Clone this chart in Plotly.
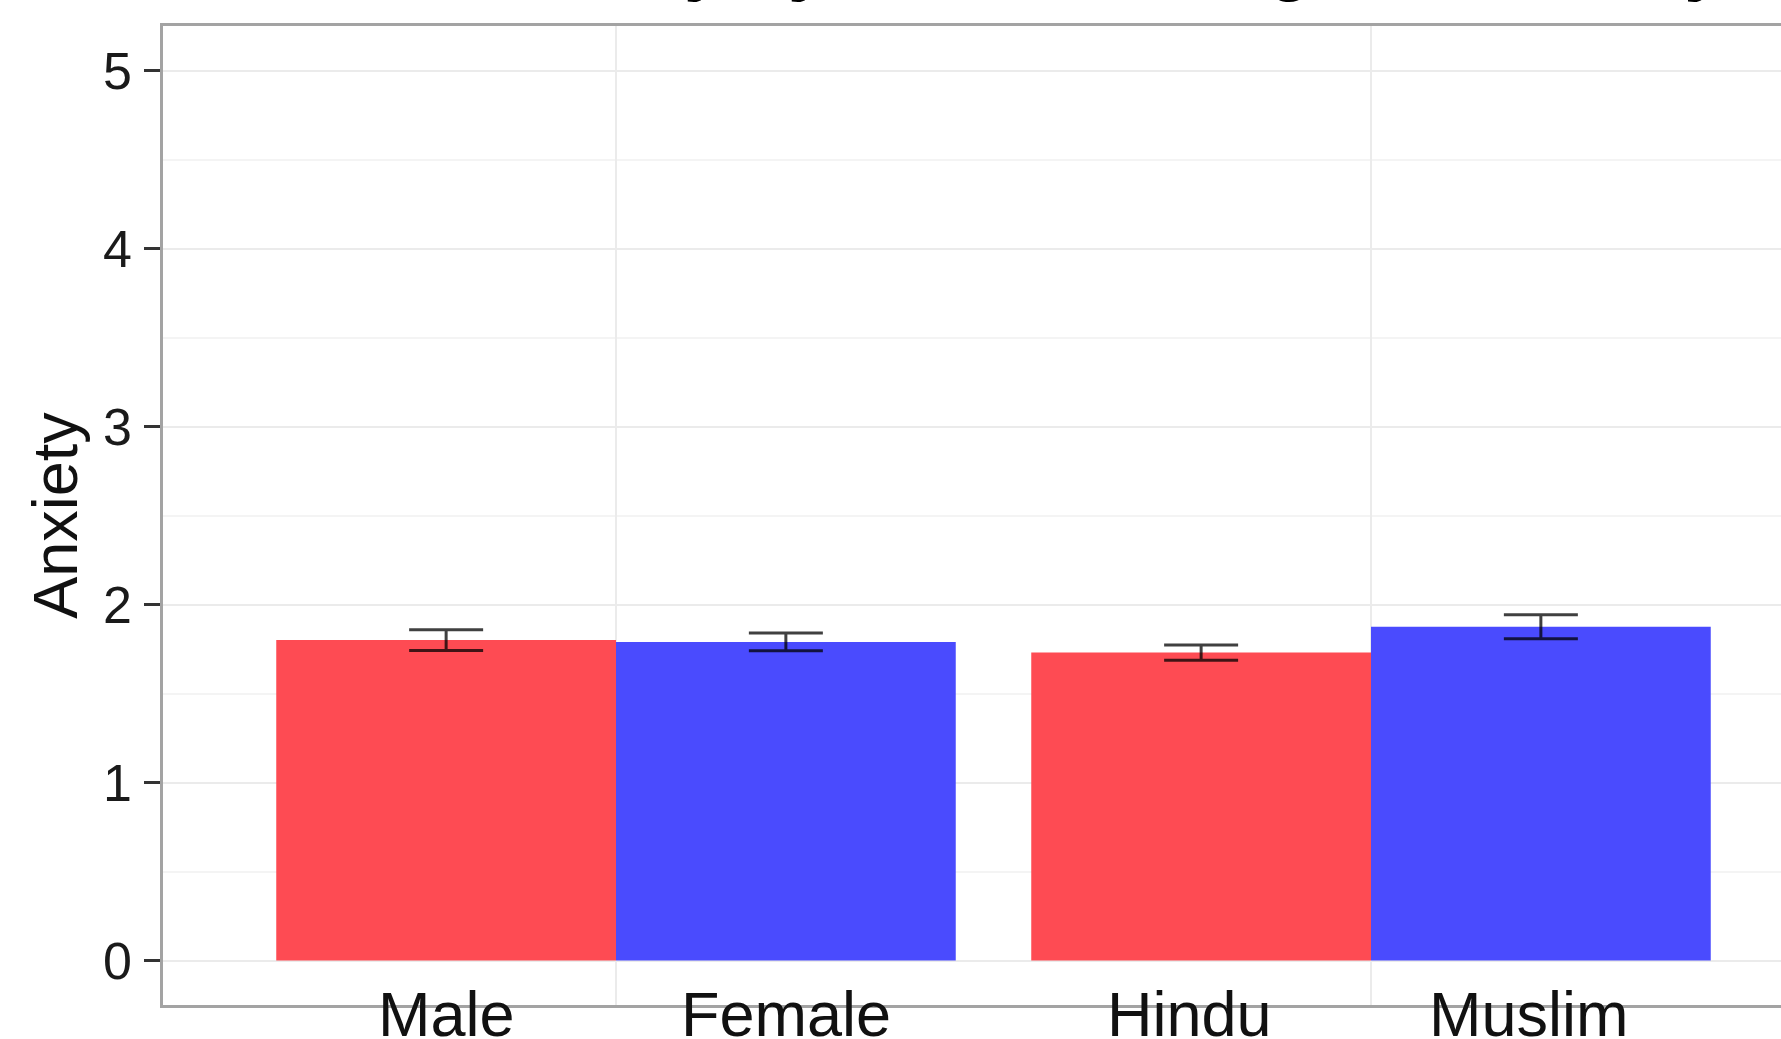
import plotly.graph_objects as go

# Mean anxiety scores with standard errors, two comparison groups
groups = ["Gender", "Religion"]
first_labels = ["Male", "Hindu"]
second_labels = ["Female", "Muslim"]
first_means = [1.80, 1.73]
second_means = [1.79, 1.875]
first_se = [0.058, 0.043]
second_se = [0.050, 0.068]

y_ticks = [0, 1, 2, 3, 4, 5]

RED = "#FE4B53"
BLUE = "#4A4BFE"
ERR = "rgba(0,0,0,0.75)"
FONT = "Liberation Sans, Arial, Helvetica, sans-serif"

W, H = 1781, 1039
M_L, M_R, M_T, M_B = 163, 0, 26, 34
plot_w = W - M_L - M_R
plot_h = H - M_T - M_B

fig = go.Figure()
fig.add_trace(go.Bar(
    x=groups, y=first_means, name="first",
    marker=dict(color=RED, line=dict(width=0)),
    error_y=dict(type="data", array=first_se, visible=True,
                 color=ERR, thickness=3, width=37),
))
fig.add_trace(go.Bar(
    x=groups, y=second_means, name="second",
    marker=dict(color=BLUE, line=dict(width=0)),
    error_y=dict(type="data", array=second_se, visible=True,
                 color=ERR, thickness=3, width=37),
))

# dodged bar centres sit a quarter of the 0.9 group width either side;
# the second group's labels are nudged slightly left
offset = 0.9 / 4
nudge = [0.0, -0.016]
label_y = (H - M_B - 977) / plot_h
annotations = []
for i in range(len(groups)):
    for lab, dx in ((first_labels[i], -offset), (second_labels[i], offset)):
        annotations.append(dict(
            x=i + dx + nudge[i], xref="x", y=label_y, yref="paper",
            text=lab, showarrow=False, xanchor="center", yanchor="top",
            font=dict(family=FONT, size=63, color="#111111"),
        ))

# title sits above the top edge of the page
annotations.append(dict(
    x=(462 - M_L) / plot_w, xref="paper",
    y=(H - M_B - 4.5) / plot_h, yref="paper",
    text="<b>Anxiety by Gender, Religion and City</b>",
    showarrow=False, xanchor="left", yanchor="bottom",
    font=dict(family=FONT, size=72, color="#000000"),
))

x_left = -0.6
x_right = x_left + 2.2 * plot_w / (plot_w + 43)

fig.update_layout(
    width=W, height=H,
    margin=dict(l=M_L, r=M_R, t=M_T, b=M_B, pad=0, autoexpand=False),
    paper_bgcolor="white", plot_bgcolor="white",
    barmode="group", bargap=0.1, bargroupgap=0,
    showlegend=False,
    annotations=annotations,
    xaxis=dict(
        type="category", range=[x_left, x_right],
        showticklabels=False, ticks="",
        showgrid=True, gridcolor="#EBEBEB", gridwidth=2,
        showline=True, mirror=True, linecolor="#A3A3A3", linewidth=2.5,
        zeroline=False, automargin=False,
    ),
    yaxis=dict(
        range=[-0.25, 5.25], tickvals=y_ticks,
        ticks="outside", ticklen=16, tickwidth=2.5, tickcolor="#333333",
        tickfont=dict(family=FONT, size=52, color="#1A1A1A"),
        ticklabelstandoff=2,
        showgrid=True, gridcolor="#EBEBEB", gridwidth=2,
        minor=dict(dtick=0.5, showgrid=True, gridcolor="#F4F4F4", gridwidth=1.5, ticklen=0),
        showline=True, mirror=False, linecolor="#A3A3A3", linewidth=2.5,
        zeroline=False, automargin=False,
        title=dict(text="Anxiety", standoff=5,
                   font=dict(family=FONT, size=63, color="#111111")),
    ),
)

fig.write_html("out.html")
